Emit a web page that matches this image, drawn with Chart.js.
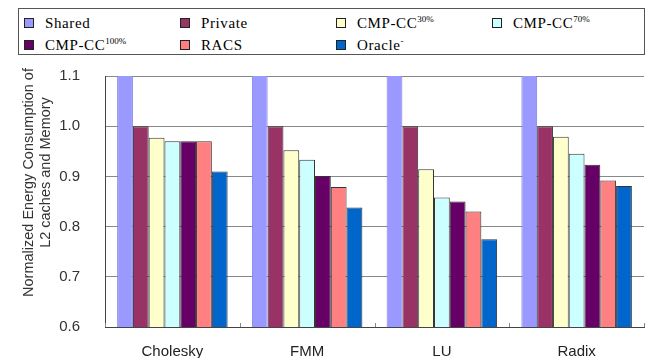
<!DOCTYPE html>
<html>
<head>
<meta charset="utf-8">
<script src="https://cdn.jsdelivr.net/npm/chart.js@4/dist/chart.umd.min.js"></script>
<style>
  html, body { margin: 0; padding: 0; background: #fff; }
  #wrap { position: relative; width: 650px; height: 361px; }
  #legend {
    position: absolute; left: 18px; top: 8px; width: 627px; height: 47px;
    border: 1px solid #555; box-sizing: border-box; background: #fff;
    font-family: "Liberation Serif", "DejaVu Serif", serif; font-size: 15px; color: #000;
  }
  .item { position: absolute; white-space: nowrap; height: 12px; }
  .sw { position: absolute; left: 0; top: 0; width: 8px; height: 8px; border: 1px solid #222; }
  .txt { position: absolute; left: 21px; top: -4px; line-height: 18px; letter-spacing: 0.6px; }
  .txt sup { font-size: 9px; vertical-align: 6px; line-height: 0; letter-spacing: 0; }
</style>
</head>
<body>
<div id="wrap">
  <canvas id="chart" width="650" height="361"></canvas>
  <div id="legend"></div>
</div>
<script>
const categories = ['Cholesky', 'FMM', 'LU', 'Radix']
const seriesNames = ['Shared', 'Private', 'CMP-CC', 'CMP-CC', 'CMP-CC', 'RACS', 'Oracle']
const seriesSup = ['', '', '30%', '70%', '100%', '', '-']
const seriesColors = ['#9999FF', '#993366', '#FFFFCC', '#CCFFFF', '#660066', '#FF8080', '#0066CC']

const shared = [1.3, 1.3, 1.3, 1.3]
const privateC = [1.0, 1.0, 1.0, 1.0]
const cc30 = [0.977, 0.952, 0.914, 0.979]
const cc70 = [0.970, 0.933, 0.858, 0.945]
const cc100 = [0.970, 0.901, 0.850, 0.923]
const racs = [0.970, 0.879, 0.830, 0.892]
const oracle = [0.910, 0.838, 0.775, 0.881]
const seriesValues = [shared, privateC, cc30, cc70, cc100, racs, oracle]

const yTicks = [0.6, 0.7, 0.8, 0.9, 1.0, 1.1]
const yTitle = ['Normalized Energy Consumption of', 'L2 caches and Memory']

// legend (html so superscripts stay real text)
const legend = document.getElementById('legend')
seriesNames.forEach((name, i) => {
  const el = document.createElement('div')
  el.className = 'item'
  el.style.left = (5 + (i % 4) * 156) + 'px'
  el.style.top = (i < 4 ? 9 : 31) + 'px'
  const sup = seriesSup[i] ? '<sup>' + seriesSup[i] + '</sup>' : ''
  el.innerHTML = '<span class="sw" style="background:' + seriesColors[i] + '"></span><span class="txt">' + name + sup + '</span>'
  legend.appendChild(el)
})

// small inward ticks between categories on the x axis
const innerTicks = {
  id: 'innerTicks',
  afterDraw(chart) {
    const x = chart.scales.x
    const ctx = chart.ctx
    const step = x.getPixelForValue(1) - x.getPixelForValue(0)
    ctx.save()
    ctx.strokeStyle = '#888'
    ctx.lineWidth = 1
    for (let i = 0; i <= categories.length; i++) {
      const px = Math.round(x.getPixelForValue(i) - step / 2) + 0.5
      ctx.beginPath()
      ctx.moveTo(px, chart.chartArea.bottom)
      ctx.lineTo(px, chart.chartArea.bottom - 4)
      ctx.stroke()
    }
    ctx.restore()
  }
}

// y title, two rotated lines sitting a bit above the plot middle like the original
const yTitlePlugin = {
  id: 'yTitlePlugin',
  afterDraw(chart) {
    const ctx = chart.ctx
    const mid = (chart.chartArea.top + chart.chartArea.bottom) / 2
    ctx.save()
    ctx.fillStyle = '#333'
    ctx.font = '14.5px "Liberation Sans"'
    ctx.textAlign = 'center'
    ctx.textBaseline = 'middle'
    ctx.translate(29, mid - 19)
    ctx.rotate(-Math.PI / 2)
    ctx.fillText(yTitle[0], 0, 0)
    ctx.fillText(yTitle[1], 10, 17)
    ctx.restore()
  }
}

new Chart(document.getElementById('chart'), {
  type: 'bar',
  data: {
    labels: categories,
    datasets: seriesValues.map((vals, i) => ({
      label: seriesNames[i] + seriesSup[i],
      data: vals,
      backgroundColor: seriesColors[i],
      borderColor: i === 0 ? '#8080dd' : '#333',
      borderWidth: 1,
      borderSkipped: 'bottom',
      categoryPercentage: 0.82,
      barPercentage: 1.0
    }))
  },
  options: {
    responsive: false,
    animation: false,
    layout: { padding: { top: 76, right: 6, left: 0, bottom: 0 } },
    plugins: { legend: { display: false }, tooltip: { enabled: false } },
    scales: {
      x: {
        afterFit: s => { s.height = 31 },
        grid: { display: false },
        border: { color: '#444', width: 1 },
        ticks: { color: '#222', font: { family: 'Liberation Sans', size: 15 }, padding: 8 }
      },
      y: {
        min: 0.6, max: 1.1,
        afterFit: s => { s.width = 105 },
        afterBuildTicks: s => { s.ticks = yTicks.map(v => ({ value: v })) },
        grid: { color: '#888', drawTicks: false },
        border: { color: '#444', width: 1 },
        ticks: {
          color: '#333', padding: 25,
          font: { family: 'Liberation Sans', size: 15 },
          callback: v => v.toFixed(1)
        }
      }
    }
  },
  plugins: [innerTicks, yTitlePlugin]
})
</script>
</body>
</html>
